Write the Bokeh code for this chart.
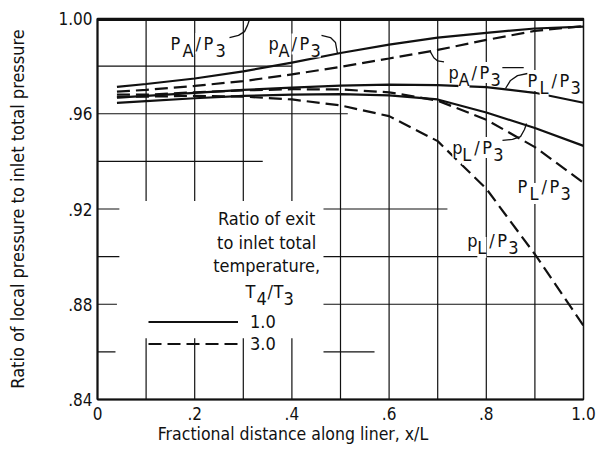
from bokeh.plotting import figure
from bokeh.models import (Range1d, FixedTicker, Label, Legend, LegendItem)
from bokeh.embed import file_html
from bokeh.resources import INLINE

# ---------------- data ----------------
x_pos = [0.04, 0.1, 0.2, 0.3, 0.4, 0.5, 0.6, 0.7, 0.8, 0.9, 1.0]
# T4/T3 = 1.0 (solid)
pA_t1 = [0.9713, 0.9725, 0.9748, 0.9778, 0.9815, 0.9855, 0.9890, 0.9920, 0.9940, 0.9958, 0.9966]
PL_t1 = [0.9668, 0.9675, 0.9688, 0.9700, 0.9710, 0.9718, 0.9722, 0.9720, 0.9712, 0.9688, 0.9646]
pL_t1 = [0.9646, 0.9653, 0.9665, 0.9675, 0.9680, 0.9682, 0.9677, 0.9660, 0.9605, 0.9540, 0.9465]
# T4/T3 = 3.0 (dashed)
pA_t3 = [0.9693, 0.9700, 0.9717, 0.9737, 0.9765, 0.9797, 0.9832, 0.9868, 0.9910, 0.9948, 0.9968]
PL_t3 = [0.9680, 0.9680, 0.9690, 0.9698, 0.9703, 0.9702, 0.9690, 0.9655, 0.9575, 0.9460, 0.9310]
pL_t3 = [0.9670, 0.9672, 0.9675, 0.9672, 0.9660, 0.9635, 0.9590, 0.9485, 0.9285, 0.9010, 0.8710]
# PA/P3 (both temperature ratios)
x_PA = [0.0, 1.0]
PA_ratio = [0.9996, 0.9996]

x_ticks = [0.0, 0.2, 0.4, 0.6, 0.8, 1.0]
x_tick_labels = ["0", ".2", ".4", ".6", ".8", "1.0"]
y_ticks = [0.84, 0.88, 0.92, 0.96, 1.00]
y_tick_labels = [".84", ".88", ".92", ".96", "1.00"]
legend_labels = ["1.0", "3.0"]

FONT = "Liberation Sans Narrow, DejaVu Sans Condensed, sans-serif"
INK = "#111111"

p = figure(width=598, height=449, output_backend="svg", toolbar_location=None,
           x_range=Range1d(0, 1.0), y_range=Range1d(0.84, 1.0),
           min_border_left=97, min_border_right=15, min_border_top=18, min_border_bottom=50)
p.background_fill_color = "white"
p.border_fill_color = "white"
p.outline_line_color = INK
p.outline_line_width = 1.5
p.xgrid.visible = False
p.ygrid.visible = False

# ------------- grid (partial, as in the original drawing) -------------
vgrid = {0.1: [(0.9234, 1.0), (0.84, 0.8657)], 0.2: [(0.9234, 1.0), (0.84, 0.8657)],
         0.3: [(0.9234, 1.0), (0.84, 0.8657)], 0.4: [(0.9234, 1.0), (0.84, 0.8657)],
         0.5: [(0.84, 1.0)], 0.6: [(0.84, 1.0)], 0.7: [(0.84, 1.0)],
         0.8: [(0.84, 1.0)], 0.9: [(0.84, 1.0)]}
hgrid = {0.98: [(0.0, 0.40)], 0.96: [(0.0, 0.515)], 0.94: [(0.0, 0.34)],
         0.92: [(0.0, 0.045), (0.465, 0.72)], 0.90: [(0.0, 0.045), (0.465, 1.0)],
         0.88: [(0.0, 0.04), (0.465, 1.0)], 0.86: [(0.0, 0.037), (0.465, 0.57)]}
gx0, gy0, gx1, gy1 = [], [], [], []
for xv, spans in vgrid.items():
    for a, b in spans:
        gx0.append(xv); gx1.append(xv); gy0.append(a); gy1.append(b)
for yv, spans in hgrid.items():
    for a, b in spans:
        gx0.append(a); gx1.append(b); gy0.append(yv); gy1.append(yv)
p.segment(gx0, gy0, gx1, gy1, line_color=INK, line_width=1.2)

# ------------- curves -------------
DASH = "13 6"
p.line(x_PA, PA_ratio, line_color=INK, line_width=3)
rA = p.line(x_pos, pA_t1, line_color=INK, line_width=2.2)
p.line(x_pos, PL_t1, line_color=INK, line_width=2.2)
p.line(x_pos, pL_t1, line_color=INK, line_width=2.2)
rB = p.line(x_pos, pA_t3, line_color=INK, line_width=2.2, line_dash=DASH)
p.line(x_pos, PL_t3, line_color=INK, line_width=2.2, line_dash=DASH)
p.line(x_pos, pL_t3, line_color=INK, line_width=2.2, line_dash=DASH)

# ------------- labels with subscripts -------------
def sub_label(x, y, parts, size=18, bg=True):
    for txt, dx, dy in parts:
        kw = dict(background_fill_color="white") if bg else {}
        p.add_layout(Label(x=x, y=y, x_offset=dx, y_offset=dy, text=txt,
                           text_font=FONT, text_font_size=f"{size}px",
                           text_color=INK, text_baseline="alphabetic", **kw))

sub_label(0.150, 0.9895, [("P", 0, 0), ("A", 12, -7), ("/", 25, 0), ("P", 33, 0), ("3", 45, -7)])
sub_label(0.352, 0.9893, [("p", 0, 0), ("A", 10, -7), ("/", 23, 0), ("P", 31, 0), ("3", 42, -7)])
sub_label(0.722, 0.9773, [("p", 0, 0), ("A", 10, -7), ("/", 23, 0), ("P", 31, 0), ("3", 42, -7)])
sub_label(0.885, 0.9740, [("P", 0, 0), ("L", 12, -7), ("/", 24, 0), ("P", 32, 0), ("3", 43, -7)])
sub_label(0.730, 0.9458, [("p", 0, 0), ("L", 10, -7), ("/", 22, 0), ("P", 30, 0), ("3", 41, -7)])
sub_label(0.864, 0.9294, [("P", 0, 0), ("L", 12, -7), ("/", 24, 0), ("P", 32, 0), ("3", 43, -7)])
sub_label(0.761, 0.9068, [("p", 0, 0), ("L", 10, -7), ("/", 22, 0), ("P", 30, 0), ("3", 41, -7)])

# legend title block
for txt, yy in [("Ratio of exit", 0.9160), ("to inlet total", 0.9059), ("temperature,", 0.8963)]:
    p.add_layout(Label(x=0.348, y=yy, text=txt, text_align="center", text_baseline="alphabetic",
                       text_font=FONT, text_font_size="18px", text_color=INK))
sub_label(0.3045, 0.8853, [("T", 0, 0), ("4", 11, -7), ("/", 22, 0), ("T", 28, 0), ("3", 38, -7)], bg=False)

# ------------- leaders -------------
leaders = [
    ([0.2716, 0.2901, 0.3025, 0.3086, 0.3128], [0.9920, 0.9929, 0.9945, 0.9971, 0.9996]),
    ([0.4609, 0.4794, 0.4897, 0.4938], [0.9929, 0.9920, 0.9899, 0.9853]),
    ([0.685, 0.692, 0.700, 0.713], [0.9860, 0.9835, 0.9822, 0.9818]),
    ([0.833, 0.877], [0.9794, 0.9794]),
    ([0.8848, 0.8642, 0.8498, 0.8395], [0.9769, 0.9760, 0.9740, 0.9706]),
    ([0.8333, 0.8539, 0.8704, 0.8786, 0.8827], [0.9488, 0.9492, 0.9504, 0.9534, 0.9559]),
]
for lx, ly in leaders:
    p.line(lx, ly, line_color=INK, line_width=1.3)

legend = Legend(items=[LegendItem(label=legend_labels[0], renderers=[rA]),
                       LegendItem(label=legend_labels[1], renderers=[rB])],
                location=(51, 45), glyph_width=90, glyph_height=21, spacing=1,
                label_standoff=12, padding=0, margin=0, border_line_alpha=0,
                background_fill_alpha=0, label_text_font=FONT,
                label_text_font_size="18px", label_text_color=INK)
p.add_layout(legend)

# ------------- axes -------------
p.xaxis.ticker = FixedTicker(ticks=x_ticks)
p.xaxis.major_label_overrides = dict(zip(x_ticks, x_tick_labels))
p.yaxis.ticker = FixedTicker(ticks=y_ticks)
p.yaxis.major_label_overrides = dict(zip(y_ticks, y_tick_labels))
for ax in (p.xaxis, p.yaxis):
    ax.major_tick_out = 0
    ax.major_tick_in = 0
    ax.minor_tick_out = 0
    ax.minor_tick_in = 0
    ax.axis_line_color = INK
    ax.axis_line_width = 2
    ax.major_label_text_font = FONT
    ax.major_label_text_color = INK
    ax.major_label_text_font_size = "17px"
    ax.axis_label_text_font = FONT
    ax.axis_label_text_font_style = "normal"
    ax.axis_label_text_color = INK
p.yaxis.axis_label_text_font_size = "18px"
p.xaxis.axis_label_text_font_size = "17.5px"
# trailing no-break spaces shift the centred label left, as in the original
p.xaxis.axis_label = "Fractional distance along liner,  x/L" + "\u00a0" * 18
p.yaxis.axis_label = "Ratio of local pressure to inlet total pressure"
p.xaxis.major_label_standoff = 7
p.xaxis.axis_label_standoff = 1
p.yaxis.major_label_standoff = 5
p.yaxis.axis_label_standoff = 27

open("out.html", "w").write(file_html(p, INLINE))
